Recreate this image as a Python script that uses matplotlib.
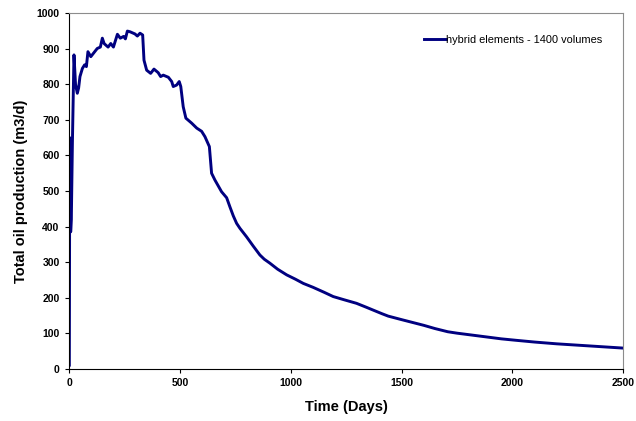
import matplotlib
matplotlib.use("Agg")
import matplotlib.pyplot as plt

days = [0, 2, 4, 6, 9, 14, 21, 28, 36, 42, 48, 59, 69, 77, 84, 97, 112, 126, 140,
        149, 157, 164, 175, 187, 199, 217, 230, 245, 253, 262, 274, 296, 307, 319,
        331, 337, 349, 367, 382, 401, 412, 424, 447, 462, 469, 484, 496, 503, 514,
        526, 552, 575, 597, 612, 632, 642, 657, 687, 710, 725, 740, 755, 770, 785,
        800, 830, 860, 880, 905, 940, 981, 1020, 1056, 1100, 1150, 1191, 1240,
        1296, 1340, 1371, 1410, 1439, 1500, 1550, 1600, 1650, 1708, 1750, 1800,
        1850, 1900, 1950, 2015, 2100, 2200, 2300, 2400, 2500]
oil = [10, 650, 600, 385, 420, 640, 883, 800, 775, 790, 822, 845, 855, 850, 892,
       878, 890, 901, 905, 930, 915, 911, 905, 915, 905, 941, 930, 935, 928, 950,
       948, 942, 936, 944, 939, 868, 840, 831, 843, 833, 822, 826, 820, 808, 794,
       798, 808, 794, 737, 705, 691, 677, 668, 653, 625, 550, 531, 498, 481, 455,
       430, 409, 395, 383, 371, 345, 320, 308, 297, 280, 264, 252, 240, 229, 215,
       203, 194, 184, 173, 165, 155, 148, 138, 130, 122, 113, 104, 100, 96, 92,
       88, 84, 80, 75, 70, 66, 62, 58]
series_label = "hybrid elements - 1400 volumes"
x_ticks = [0, 500, 1000, 1500, 2000, 2500]
y_ticks = list(range(0, 1001, 100))

plt.rcParams['font.family'] = ['Liberation Sans', 'DejaVu Sans']

fig = plt.figure(figsize=(6.36, 4.21), dpi=100)
ax = fig.add_axes([0.109, 0.1242, 0.871, 0.8442])
ax.plot(days, oil, color='#000080', lw=2.1, label=series_label)
ax.set_xlim(0, 2500)
ax.set_ylim(0, 1000)
ax.set_xticks(x_ticks)
ax.set_yticks(y_ticks)
for lab in ax.get_xticklabels() + ax.get_yticklabels():
    lab.set_fontweight('bold')
    lab.set_fontsize(7.5)
ax.tick_params(direction='out', length=3, width=0.8, pad=4)
ax.spines['top'].set_color('#8c8c8c')
ax.spines['right'].set_color('#8c8c8c')
ax.spines['left'].set_color('black')
ax.spines['bottom'].set_color('black')
ax.set_xlabel('Time (Days)', fontsize=10.5, fontweight='bold', labelpad=8)
ax.set_ylabel('Total oil production (m3/d)', fontsize=10.5, fontweight='bold', labelpad=6)
leg = ax.legend(loc='upper right', bbox_to_anchor=(0.98, 0.967), frameon=False,
                fontsize=7.9, handlelength=2.0, handletextpad=0.05)
fig.savefig('out.png', dpi=100)
